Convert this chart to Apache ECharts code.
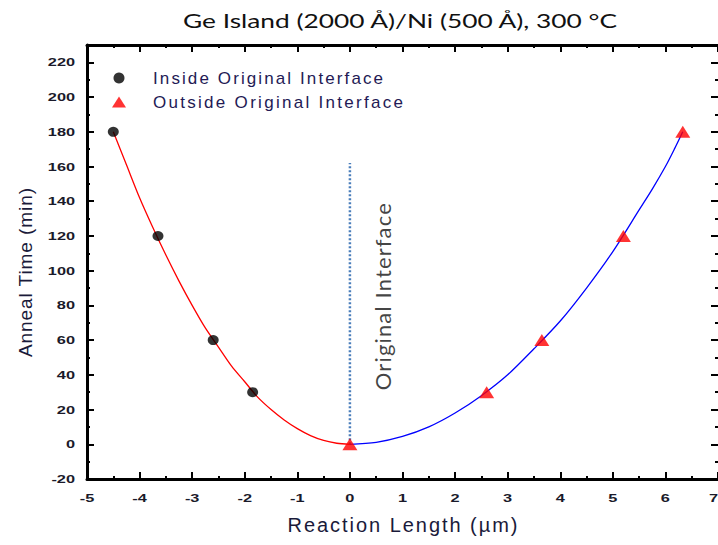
<!DOCTYPE html>
<html><head><meta charset="utf-8">
<script src="https://cdn.jsdelivr.net/npm/echarts@6/dist/echarts.min.js"></script>
<style>html,body{margin:0;padding:0;background:#fff}#c{width:718px;height:545px}</style>
</head><body><div id="c"></div>
<script>
// Measured points
const insideX = [-4.5, -3.65, -2.6, -1.85];
const insideY = [180, 120, 60, 30];
const outsideX = [0, 2.6, 3.65, 5.2, 6.33];
const outsideY = [0, 30, 60, 120, 180];
// Fit curves
const redCurveX = [-4.5, -4.25, -4, -3.75, -3.5, -3.25, -3, -2.75, -2.5, -2.25, -2, -1.75, -1.5, -1.25, -1, -0.75, -0.5, -0.25, 0];
const redCurveY = [180, 161, 142, 125, 109, 94, 80, 67, 56, 45, 36, 27, 20, 14, 9, 5, 2.2, 0.6, 0];
const blueCurveX = [0, 0.5, 1, 1.5, 2, 2.5, 3, 3.5, 4, 4.5, 5, 5.5, 5.75, 6, 6.17, 6.33];
const blueCurveY = [0, 1.1, 4.5, 10, 18, 28, 40, 55, 71, 90, 111, 135, 147, 160, 170, 180];
// Original interface marker
const interfaceX = [0, 0];
const interfaceY = [0, 162];
const interfaceLabelPos = [0.62, 85];

const title = 'Ge Island (2000 Å)/Ni (500 Å), 300 °C';
const xName = 'Reaction Length (µm)';
const yName = 'Anneal Time (min)';
const nameIn = 'Inside Original Interface';
const nameOut = 'Outside Original Interface';
const interfaceText = 'Original Interface';

const zip = (a, b) => a.map((v, i) => [v, b[i]]);
const chart = echarts.init(document.getElementById('c'), null, {renderer: 'svg'});

const arial = 'Liberation Sans, Arial, sans-serif';
const tickFont = {fontFamily: arial, fontSize: 11.5, color: '#1a1a2a', fontWeight: 'bold'};
const baseAxis = {
  axisLine: {show: true, onZero: false, lineStyle: {color: '#000', width: 3}},
  axisTick: {show: true, inside: true, length: 7, lineStyle: {color: '#000', width: 2}},
  minorTick: {show: true, splitNumber: 2, length: 3, lineStyle: {color: '#000', width: 2}},
  splitLine: {show: false},
};
const xCommon = Object.assign({type: 'value', min: -5, max: 7, interval: 1}, baseAxis);
const yCommon = Object.assign({type: 'value', min: -20, max: 230, interval: 20}, baseAxis);

chart.setOption({
  animation: false,
  backgroundColor: '#fff',
  title: {text: title, left: 395, textAlign: 'center', top: 5,
    textStyle: {fontFamily: 'Lato, sans-serif', fontSize: 20, fontWeight: 'normal', color: '#111'}},
  grid: {left: 87, right: 0, top: 45, bottom: 66, outerBoundsMode: 'none', containLabel: false},
  legend: {
    data: [{name: nameIn, icon: 'circle'}, {name: nameOut, icon: 'triangle'}],
    orient: 'vertical', left: 107, top: 64.5, itemWidth: 14, itemHeight: 11, itemGap: 7,
    textStyle: {fontFamily: arial, fontSize: 17, color: '#231a55', padding: [0, 0, 0, 22]}
  },
  xAxis: [
    Object.assign({}, xCommon, {position: 'bottom', name: xName, nameLocation: 'middle', nameGap: 36,
      nameTextStyle: {fontFamily: arial, fontSize: 20, color: '#1a1a3a'},
      axisLabel: Object.assign({margin: 13, alignMaxLabel: 'right'}, tickFont)}),
    Object.assign({}, xCommon, {position: 'top', axisLabel: {show: false}})
  ],
  yAxis: [
    Object.assign({}, yCommon, {position: 'left', name: yName, nameLocation: 'middle', nameGap: 52,
      nameTextStyle: {fontFamily: arial, fontSize: 19, color: '#1a1a3a', padding: [0, 21, 0, 0]},
      axisLabel: Object.assign({margin: 12, showMaxLabel: false}, tickFont)}),
    Object.assign({}, yCommon, {position: 'right', axisLabel: {show: false},
      axisLine: {show: false, onZero: false}})
  ],
  series: [
    {type: 'line', data: zip(redCurveX, redCurveY), smooth: 0.3, showSymbol: false, symbol: 'none',
      lineStyle: {color: '#ff0000', width: 1.3}, z: 2},
    {type: 'line', data: zip(blueCurveX, blueCurveY), smooth: 0.3, showSymbol: false, symbol: 'none',
      lineStyle: {color: '#0000ff', width: 1.3}, z: 2},
    {type: 'line', data: zip(interfaceX, interfaceY), showSymbol: false, symbol: 'none',
      lineStyle: {color: '#4a7ebb', width: 2.5, type: [2, 2]}, z: 1},
    {name: nameIn, type: 'scatter', data: zip(insideX, insideY), symbol: 'circle', symbolSize: [11, 10],
      itemStyle: {color: '#000'}, z: 3},
    {name: nameOut, type: 'scatter', data: zip(outsideX, outsideY), symbol: 'triangle', symbolSize: [15, 12],
      itemStyle: {color: '#ff0000'}, z: 3},
    {type: 'scatter', data: [interfaceLabelPos], symbolSize: 0, silent: true,
      label: {show: true, position: 'inside', rotate: 90, formatter: interfaceText,
        fontFamily: 'Lato, sans-serif', fontSize: 22, color: '#111'}}
  ]
});

// The reference is drawn with widened text; reproduce by stretching SVG text runs.
const textTargets = {};
textTargets[title] = [434, 'spacingAndGlyphs'];
textTargets[nameIn] = [230, 'spacing'];
textTargets[nameOut] = [250, 'spacing'];
textTargets[xName] = [230, 'spacing'];
textTargets[yName] = [169, 'spacing'];
textTargets[interfaceText] = [187, 'spacing'];
function widenTexts() {
  document.querySelectorAll('#c svg text').forEach(t => {
    if (t.getAttribute('data-w')) return;
    const s = t.textContent;
    let len = null, mode = 'spacingAndGlyphs';
    if (textTargets[s]) { len = textTargets[s][0]; mode = textTargets[s][1]; }
    else if (/^-?\d+$/.test(s)) { len = t.getComputedTextLength() * 1.42; }
    if (len) {
      t.setAttribute('textLength', len.toFixed(1));
      t.setAttribute('lengthAdjust', mode);
      t.setAttribute('data-w', '1');
    }
  });
}
widenTexts();
chart.on('finished', widenTexts);
</script></body></html>
